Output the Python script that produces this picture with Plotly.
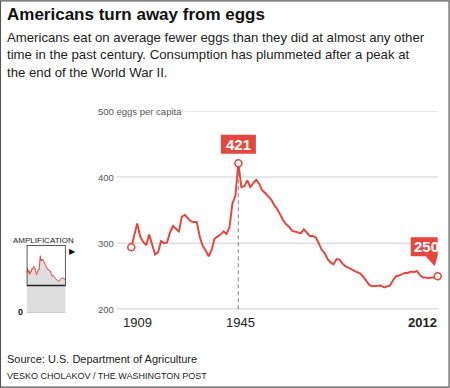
import plotly.graph_objects as go

# ---------------- data ----------------
years = list(range(1909, 2013))
eggs_per_capita = [
    294, 312, 330, 310, 302, 297, 313, 298, 283, 286,   # 1909-1918
    303, 300, 301, 316, 326, 322, 318, 340, 343, 338,   # 1919-1928
    333, 332, 332, 310, 296, 289, 280, 290, 307, 310,   # 1929-1938
    313, 318, 314, 324, 360, 372, 421, 385, 386, 395,   # 1939-1948
    385, 391, 396, 390, 380, 376, 371, 366, 358, 352,   # 1949-1958
    344, 335, 329, 325, 319, 318, 316, 315, 321, 316,   # 1959-1968
    311, 311, 309, 300, 290, 285, 276, 271, 268, 276,   # 1969-1978
    275, 269, 265, 263, 260, 258, 256, 254, 249, 243,   # 1979-1988
    237, 235, 235, 235, 236, 233, 234, 236, 244, 250,   # 1989-1998
    251, 253, 255, 255, 257, 256, 258, 252, 248, 248,   # 1999-2008
    247, 248, 248, 250,                                 # 2009-2012
]
highlight_years = [1909, 1945, 2012]
highlight_values = [eggs_per_capita[years.index(y)] for y in highlight_years]
y_ticks = [200, 300, 400]
y_top = 500
x_tick_years = [1909, 1945, 2012]

title = "Americans turn away from eggs"
subtitle_lines = [
    "Americans eat on average fewer eggs than they did at almost any other",
    "time in the past century. Consumption has plummeted after a peak at",
    "the end of the World War II.",
]
source = "Source: U.S. Department of Agriculture"
credit = "VESKO CHOLAKOV / THE WASHINGTON POST"

RED = "#e3483f"
W, H = 450, 388
FONT = "Liberation Sans, Arial, sans-serif"

def px(x):
    return x / W

def py(y):
    return 1 - y / H

fig = go.Figure()

# main line
fig.add_trace(go.Scatter(
    x=years, y=eggs_per_capita, mode="lines",
    line=dict(color=RED, width=2), hoverinfo="skip", showlegend=False,
))
# highlighted points
fig.add_trace(go.Scatter(
    x=highlight_years, y=highlight_values, mode="markers",
    marker=dict(size=7, color="white", line=dict(color=RED, width=1.6)),
    cliponaxis=False, hoverinfo="skip", showlegend=False,
))
# inset overview (amplification)
fig.add_trace(go.Scatter(
    x=years, y=eggs_per_capita, mode="lines", fill="tozeroy",
    fillcolor="#dedede", line=dict(color=RED, width=1),
    xaxis="x2", yaxis="y2", hoverinfo="skip", showlegend=False,
))

shapes = []
# gridlines
for v in y_ticks:
    shapes.append(dict(type="line", xref="paper", yref="y",
                       x0=px(117), x1=px(438), y0=v, y1=v,
                       line=dict(color="#bdbdbd" if v == 200 else "#dedede", width=1.5),
                       layer="below"))
shapes.append(dict(type="line", xref="paper", yref="y",
                   x0=px(185), x1=px(438), y0=y_top, y1=y_top,
                   line=dict(color="#dedede", width=1.5), layer="below"))
# dashed 1945 marker line
shapes.append(dict(type="line", xref="x", yref="y", x0=1945, x1=1945,
                   y0=200, y1=highlight_values[1],
                   line=dict(color="#9a9a9a", width=1.3, dash="4px,3px"), layer="below"))
# 421 label box
shapes.append(dict(type="rect", xref="x", yref="y", xsizemode="pixel", ysizemode="pixel",
                   xanchor=1945, yanchor=highlight_values[1],
                   x0=-17.5, x1=17.5, y0=9.5, y1=28.5,
                   fillcolor=RED, line=dict(width=0)))
# 250 label box with pointer
shapes.append(dict(type="path", xref="x", yref="y", xsizemode="pixel", ysizemode="pixel",
                   xanchor=2012, yanchor=highlight_values[2],
                   path="M -27 20 L -12 20 L -3 10 L 0 20 L 4 20 L 4 39 L -27 39 Z",
                   fillcolor=RED, line=dict(width=0)))
# inset zoom window
shapes.append(dict(type="rect", xref="x2", yref="y2", x0=1909, x1=2012, y0=200, y1=500,
                   line=dict(color="#222", width=1.5)))
shapes.append(dict(type="line", xref="x2", yref="y2", x0=1909, x1=2012, y0=0, y1=0,
                   line=dict(color="#bbb", width=1)))
# page frame
shapes.append(dict(type="rect", xref="paper", yref="paper", x0=0.001, x1=0.998,
                   y0=0.002, y1=0.998, line=dict(color="#555", width=1.2)))

ann = []
ann.append(dict(text=f"<b>{title}</b>", xref="paper", yref="paper", x=px(5), y=py(15),
                xanchor="left", yanchor="middle", showarrow=False,
                font=dict(family=FONT, size=17, color="#111")))
for i, line in enumerate(subtitle_lines):
    ann.append(dict(text=line, xref="paper", yref="paper", x=px(5), y=py(38 + 17 * i),
                    xanchor="left", yanchor="middle", showarrow=False,
                    font=dict(family=FONT, size=13.2, color="#222")))
# y labels
ann.append(dict(text=f"{y_top} eggs per capita", xref="paper", yref="y", x=px(96), y=y_top,
                xanchor="left", yanchor="middle", showarrow=False,
                font=dict(family=FONT, size=9.5, color="#555")))
for v in y_ticks:
    ann.append(dict(text=str(v), xref="paper", yref="y", x=px(96), y=v,
                    xanchor="left", yanchor="middle", showarrow=False,
                    font=dict(family=FONT, size=9.5, color="#555")))
# x labels
for yr in x_tick_years:
    last = yr == x_tick_years[-1]
    ann.append(dict(text=f"<b>{yr}</b>" if last else str(yr), xref="x", yref="paper",
                    x=yr, y=py(322), xanchor="right" if last else "center",
                    xshift=1 if last else (2 if yr == 1945 else 6),
                    yanchor="middle", showarrow=False,
                    font=dict(family=FONT, size=13, color="#222")))
# value labels
ann.append(dict(text=f"<b>{highlight_values[1]}</b>", xref="x", yref="y", x=1945,
                y=highlight_values[1], yshift=19, xshift=0, showarrow=False,
                xanchor="center", yanchor="middle",
                font=dict(family=FONT, size=15, color="white")))
ann.append(dict(text=f"<b>{highlight_values[2]}</b>", xref="x", yref="y", x=2012,
                y=highlight_values[2], yshift=29.5, xshift=-11.5, showarrow=False,
                xanchor="center", yanchor="middle",
                font=dict(family=FONT, size=15, color="white")))
# inset labels
ann.append(dict(text="AMPLIFICATION", xref="paper", yref="paper", x=px(11), y=py(240),
                xanchor="left", yanchor="middle", showarrow=False,
                font=dict(family=FONT, size=8, color="#222")))
ann.append(dict(text="▶", xref="paper", yref="paper", x=px(67), y=py(251),
                xanchor="left", yanchor="middle", showarrow=False,
                font=dict(family=FONT, size=8, color="#111")))
ann.append(dict(text="<b>0</b>", xref="paper", yref="paper", x=px(16), y=py(312),
                xanchor="left", yanchor="middle", showarrow=False,
                font=dict(family=FONT, size=9, color="#111")))
# source
ann.append(dict(text=source, xref="paper", yref="paper", x=px(5), y=py(359),
                xanchor="left", yanchor="middle", showarrow=False,
                font=dict(family=FONT, size=11, color="#222")))
ann.append(dict(text=credit, xref="paper", yref="paper", x=px(5), y=py(376),
                xanchor="left", yanchor="middle", showarrow=False,
                font=dict(family=FONT, size=9, color="#222")))

fig.update_layout(
    width=W, height=H,
    margin=dict(l=0, r=0, t=0, b=0),
    paper_bgcolor="white", plot_bgcolor="rgba(0,0,0,0)",
    font=dict(family=FONT),
    xaxis=dict(domain=[px(131.3), px(437.7)], range=[1909, 2012],
               showgrid=False, zeroline=False, showticklabels=False, ticks="", fixedrange=True),
    yaxis=dict(domain=[py(309.3), py(111)], range=[200, 500],
               showgrid=False, zeroline=False, showticklabels=False, ticks="", fixedrange=True),
    xaxis2=dict(domain=[px(26.7), px(65.7)], range=[1909, 2012], anchor="y2",
                showgrid=False, zeroline=False, showticklabels=False, ticks="", fixedrange=True),
    yaxis2=dict(domain=[py(312.7), py(245)], range=[0, 500], anchor="x2",
                showgrid=False, zeroline=False, showticklabels=False, ticks="", fixedrange=True),
    shapes=shapes, annotations=ann, showlegend=False,
)

fig.write_html("out.html", config={"displayModeBar": False},
               post_script="document.body.style.margin='0';document.body.style.overflow='hidden';")
